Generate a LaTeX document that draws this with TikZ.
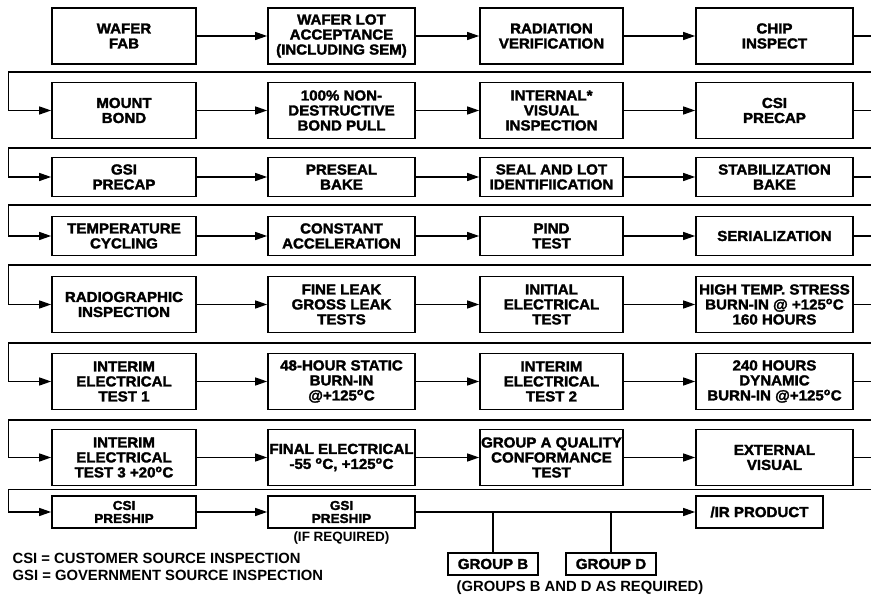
\documentclass[tikz,border=0pt]{standalone}
\usepackage{fontspec}
\setmainfont{Liberation Sans}
\newfontfamily\heavy{Liberation Sans Bold}[FakeBold=2,FakeStretch=1.04]
\usetikzlibrary{arrows.meta}

\newcommand{\degsym}{\textsuperscript{o}}

\tikzset{
  stepbox/.style={draw,line width=1.7pt,align=center,inner sep=1pt,
    font=\heavy\fontsize{14.5}{15}\selectfont},
  colA/.style={minimum width=144pt},
  colB/.style={minimum width=147pt},
  colC/.style={minimum width=143pt},
  colD/.style={minimum width=157pt},
  tallrow/.style={minimum height=56pt},
  midrow/.style={minimum height=39pt},
  lowrow/.style={minimum height=32pt,font=\heavy\fontsize{13}{13}\selectfont},
  grpbox/.style={draw,line width=1.7pt,minimum width=90pt,minimum height=22pt,
    inner sep=1pt,font=\heavy\fontsize{14.5}{15}\selectfont},
  note/.style={font=\bfseries\fontsize{14.8}{16}\selectfont,inner sep=0pt}
}

\begin{document}
\begin{tikzpicture}[>={Triangle[length=12pt,width=8pt]},x=1pt,y=1pt,line width=1.3pt]
  \useasboundingbox (0,0) rectangle (871,599);

  % row 1
  \node[stepbox,colA,tallrow] (fab) at (124,563) {WAFER\\FAB};
  \node[stepbox,colB,tallrow] (lotacc) at (341.5,563) {WAFER LOT\\ACCEPTANCE\\(INCLUDING SEM)};
  \node[stepbox,colC,tallrow] (radver) at (551.5,563) {RADIATION\\VERIFICATION};
  \node[stepbox,colD,tallrow] (chip) at (774.5,563) {CHIP\\INSPECT};
  % row 2
  \node[stepbox,colA,tallrow] (mount) at (124,488.5) {MOUNT\\BOND};
  \node[stepbox,colB,tallrow] (pull) at (341.5,488.5) {100\% NON-\\DESTRUCTIVE\\BOND PULL};
  \node[stepbox,colC,tallrow] (intvis) at (551.5,488.5) {INTERNAL*\\VISUAL\\INSPECTION};
  \node[stepbox,colD,tallrow] (csipre) at (774.5,488.5) {CSI\\PRECAP};
  % row 3
  \node[stepbox,colA,midrow] (gsipre) at (124,422) {GSI\\PRECAP};
  \node[stepbox,colB,midrow] (prebake) at (341.5,422) {PRESEAL\\BAKE};
  \node[stepbox,colC,midrow] (seal) at (551.5,422) {SEAL AND LOT\\IDENTIFIICATION};
  \node[stepbox,colD,midrow] (stabake) at (774.5,422) {STABILIZATION\\BAKE};
  % row 4
  \node[stepbox,colA,midrow] (tempcyc) at (124,363) {TEMPERATURE\\CYCLING};
  \node[stepbox,colB,midrow] (accel) at (341.5,363) {CONSTANT\\ACCELERATION};
  \node[stepbox,colC,midrow] (pind) at (551.5,363) {PIND\\TEST};
  \node[stepbox,colD,midrow] (serial) at (774.5,363) {SERIALIZATION};
  % row 5
  \node[stepbox,colA,tallrow] (radio) at (124,294.5) {RADIOGRAPHIC\\INSPECTION};
  \node[stepbox,colB,tallrow] (leak) at (341.5,294.5) {FINE LEAK\\GROSS LEAK\\TESTS};
  \node[stepbox,colC,tallrow] (initel) at (551.5,294.5) {INITIAL\\ELECTRICAL\\TEST};
  \node[stepbox,colD,tallrow] (hts) at (774.5,294.5) {HIGH TEMP. STRESS\\BURN-IN @ +125\degsym C\\160 HOURS};
  % row 6
  \node[stepbox,colA,tallrow] (intone) at (124,217.5) {INTERIM\\ELECTRICAL\\TEST 1};
  \node[stepbox,colB,tallrow] (static) at (341.5,217.5) {48-HOUR STATIC\\BURN-IN\\@+125\degsym C};
  \node[stepbox,colC,tallrow] (inttwo) at (551.5,217.5) {INTERIM\\ELECTRICAL\\TEST 2};
  \node[stepbox,colD,tallrow] (dyn) at (774.5,217.5) {240 HOURS\\DYNAMIC\\BURN-IN @+125\degsym C};
  % row 7
  \node[stepbox,colA,tallrow] (intthree) at (124,141.5) {INTERIM\\ELECTRICAL\\TEST 3 +20\degsym C};
  \node[stepbox,colB,tallrow] (final) at (341.5,141.5) {FINAL ELECTRICAL\\-55 \degsym C, +125\degsym C};
  \node[stepbox,colC,tallrow] (grpa) at (551.5,141.5) {GROUP A QUALITY\\CONFORMANCE\\TEST};
  \node[stepbox,colD,tallrow] (extvis) at (774.5,141.5) {EXTERNAL\\VISUAL};
  % row 8
  \node[stepbox,colA,lowrow] (csiship) at (124,87) {CSI\\PRESHIP};
  \node[stepbox,colB,lowrow] (gsiship) at (341.5,87) {GSI\\PRESHIP};
  \node[stepbox,lowrow,minimum width=127pt,font=\heavy\fontsize{14.5}{15}\selectfont] (irprod) at (759.5,87) {/IR PRODUCT};
  \node[grpbox] (grpb) at (493,35) {GROUP B};
  \node[grpbox] (grpd) at (611,35) {GROUP D};

  % notes
  \node[note,font=\bfseries\fontsize{13.5}{15}\selectfont] (ifreq) at (341.5,61) {(IF REQUIRED)};
  \node[note] (asreq) at (580,11) {(GROUPS B AND D AS REQUIRED)};
  \node[note,anchor=west] (csidef) at (12,41) {CSI = CUSTOMER SOURCE INSPECTION};
  \node[note,anchor=west] (gsidef) at (12,24) {GSI = GOVERNMENT SOURCE INSPECTION};

  % arrows within rows
  \draw[->] (fab) -- (lotacc);
  \draw[->] (lotacc) -- (radver);
  \draw[->] (radver) -- (chip);
  \draw[->] (mount) -- (pull);
  \draw[->] (pull) -- (intvis);
  \draw[->] (intvis) -- (csipre);
  \draw[->] (gsipre) -- (prebake);
  \draw[->] (prebake) -- (seal);
  \draw[->] (seal) -- (stabake);
  \draw[->] (tempcyc) -- (accel);
  \draw[->] (accel) -- (pind);
  \draw[->] (pind) -- (serial);
  \draw[->] (radio) -- (leak);
  \draw[->] (leak) -- (initel);
  \draw[->] (initel) -- (hts);
  \draw[->] (intone) -- (static);
  \draw[->] (static) -- (inttwo);
  \draw[->] (inttwo) -- (dyn);
  \draw[->] (intthree) -- (final);
  \draw[->] (final) -- (grpa);
  \draw[->] (grpa) -- (extvis);
  \draw[->] (csiship) -- (gsiship);
  \draw[->] (gsiship) -- (irprod);

  % returns to the next row
  \draw[->] (chip.east) -| ++(22,-36) -| ([xshift=-43pt]mount.west) -- (mount.west);
  \draw[->] (csipre.east) -| ++(22,-37.5) -| ([xshift=-43pt]gsipre.west) -- (gsipre.west);
  \draw[->] (stabake.east) -| ++(22,-28) -| ([xshift=-43pt]tempcyc.west) -- (tempcyc.west);
  \draw[->] (serial.east) -| ++(22,-29) -| ([xshift=-43pt]radio.west) -- (radio.west);
  \draw[->] (hts.east) -| ++(22,-38.5) -| ([xshift=-43pt]intone.west) -- (intone.west);
  \draw[->] (dyn.east) -| ++(22,-38.5) -| ([xshift=-43pt]intthree.west) -- (intthree.west);
  \draw[->] (extvis.east) -| ++(22,-32) -| ([xshift=-43pt]csiship.west) -- (csiship.west);

  % group b and d taps
  \draw (grpb.north) -- (grpb.north |- gsiship.east);
  \draw (grpd.north) -- (grpd.north |- gsiship.east);
\end{tikzpicture}
\end{document}
